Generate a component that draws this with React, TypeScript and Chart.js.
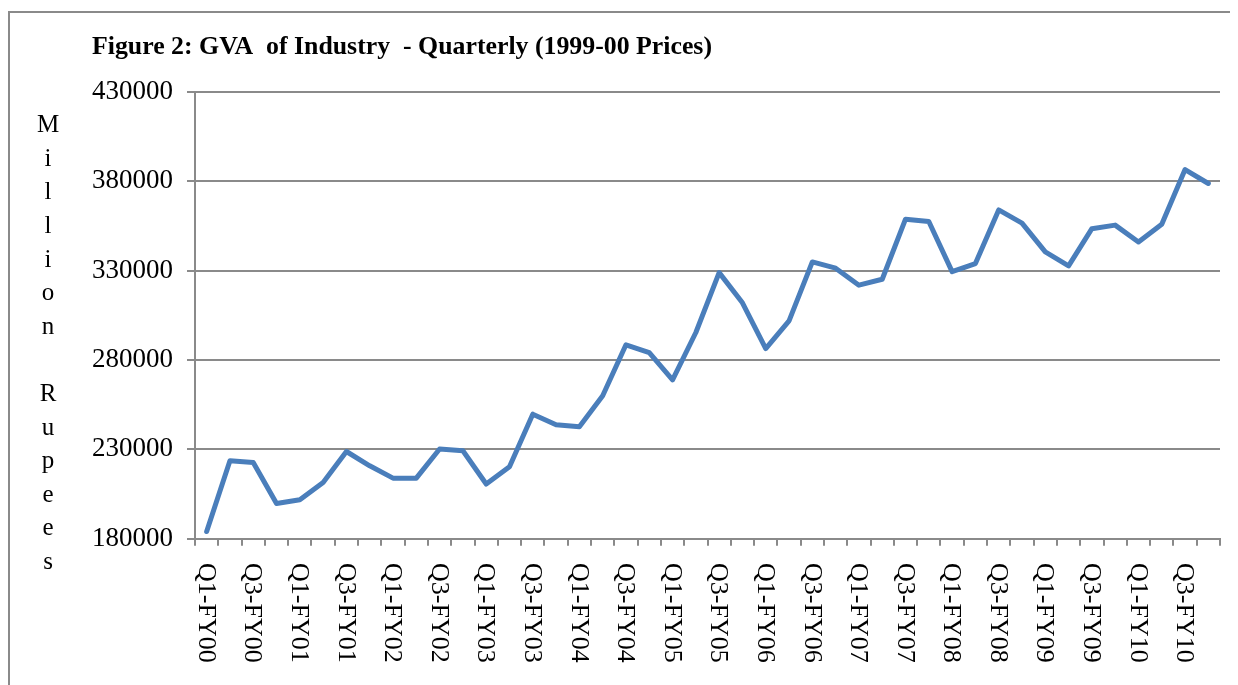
import { useEffect, useRef } from 'react';
import { Chart, registerables } from 'chart.js';

Chart.register(...registerables);

const quarters = [
  'Q1-FY00', 'Q2-FY00', 'Q3-FY00', 'Q4-FY00',
  'Q1-FY01', 'Q2-FY01', 'Q3-FY01', 'Q4-FY01',
  'Q1-FY02', 'Q2-FY02', 'Q3-FY02', 'Q4-FY02',
  'Q1-FY03', 'Q2-FY03', 'Q3-FY03', 'Q4-FY03',
  'Q1-FY04', 'Q2-FY04', 'Q3-FY04', 'Q4-FY04',
  'Q1-FY05', 'Q2-FY05', 'Q3-FY05', 'Q4-FY05',
  'Q1-FY06', 'Q2-FY06', 'Q3-FY06', 'Q4-FY06',
  'Q1-FY07', 'Q2-FY07', 'Q3-FY07', 'Q4-FY07',
  'Q1-FY08', 'Q2-FY08', 'Q3-FY08', 'Q4-FY08',
  'Q1-FY09', 'Q2-FY09', 'Q3-FY09', 'Q4-FY09',
  'Q1-FY10', 'Q2-FY10', 'Q3-FY10', 'Q4-FY10',
];

const gvaIndustry = [
  184000, 223600, 222700, 199700,
  201800, 211500, 228800, 220800,
  213900, 213900, 230200, 229200,
  210600, 220300, 249700, 243800,
  242600, 260000, 288500, 284200,
  268900, 295400, 328900, 312000,
  286400, 301900, 334900, 331400,
  321900, 325200, 358800, 357500,
  329500, 334000, 364000, 356600,
  340500, 332700, 353500, 355500,
  346100, 356000, 386600, 378800,
];

const yMin = 180000;
const yMax = 430000;
const yStep = 50000;

const titleText = 'Figure 2: GVA  of Industry  - Quarterly (1999-00 Prices)';
const yAxisTitle = 'Million Rupees';
const labelEvery = 2;

const SERIF = "'Liberation Serif', 'Times New Roman', serif";

const decorPlugin = {
  id: 'decor',
  afterDraw(chart: any) {
    const ctx = chart.ctx;
    ctx.save();
    // outer frame (top and left edges visible)
    ctx.fillStyle = '#8a8a8a';
    ctx.fillRect(0, 3, chart.width, 2);
    ctx.fillRect(0, 3, 2, chart.height);

    // title (slightly condensed, like the original)
    ctx.fillStyle = '#000';
    ctx.font = `bold 26px ${SERIF}`;
    ctx.textBaseline = 'middle';
    ctx.textAlign = 'left';
    const w = ctx.measureText(titleText).width;
    const targetW = 620;
    ctx.save();
    ctx.translate(84, 39);
    if (w > targetW) ctx.scale(targetW / w, 1);
    ctx.fillText(titleText, 0, 0);
    ctx.restore();

    // stacked y-axis title
    ctx.font = `25px ${SERIF}`;
    ctx.textAlign = 'center';
    yAxisTitle.split('').forEach((ch, k) => {
      ctx.fillText(ch, 40, 117.7 + 33.6 * k);
    });

    // x labels, rotated clockwise
    const xs = chart.scales.x;
    ctx.font = `26px ${SERIF}`;
    ctx.textAlign = 'left';
    ctx.textBaseline = 'middle';
    quarters.forEach((q, i) => {
      if (i % labelEvery !== 0) return;
      const x = xs.getPixelForValue(i);
      ctx.save();
      ctx.translate(x - 1, 555);
      ctx.rotate(Math.PI / 2);
      ctx.fillText(q, 0, 0);
      ctx.restore();
    });
    ctx.restore();
  },
};

export default function App() {
  const canvasRef = useRef<HTMLCanvasElement | null>(null);

  useEffect(() => {
    const canvas = canvasRef.current;
    if (!canvas) return;
    const chart = new Chart(canvas, {
      type: 'line',
      data: {
        labels: quarters,
        datasets: [
          {
            label: 'GVA of Industry',
            data: gvaIndustry,
            borderColor: '#4a7ebb',
            backgroundColor: '#4a7ebb',
            borderWidth: 5,
            pointRadius: 0,
            tension: 0,
            borderJoinStyle: 'round',
            borderCapStyle: 'round',
          },
        ],
      },
      options: {
        responsive: false,
        animation: false,
        layout: { padding: { top: 84, right: 18, left: 0, bottom: 0 } },
        plugins: {
          legend: { display: false },
          title: { display: false },
          tooltip: { enabled: false },
        },
        scales: {
          x: {
            type: 'category',
            offset: true,
            ticks: { display: false, autoSkip: false },
            grid: {
              offset: true,
              drawOnChartArea: false,
              drawTicks: true,
              tickLength: 7,
              color: '#8a8a8a',
              lineWidth: 2,
            },
            border: { color: '#8a8a8a', width: 2 },
            afterFit(s: any) {
              s.height = 146.3;
            },
          },
          y: {
            min: yMin,
            max: yMax,
            ticks: {
              stepSize: yStep,
              color: '#000',
              padding: 14,
              font: { family: SERIF, size: 27 },
              callback: (v: any) => String(v),
            },
            grid: {
              color: '#8a8a8a',
              lineWidth: 2,
              drawTicks: true,
              tickLength: 8,
            },
            border: { color: '#8a8a8a', width: 2 },
            afterFit(s: any) {
              s.width = 187;
            },
          },
        },
      },
      plugins: [decorPlugin],
    });
    return () => chart.destroy();
  }, []);

  return (
    <div style={{ position: 'relative', width: 1230, height: 677 }}>
      <canvas
        ref={canvasRef}
        width={1230}
        height={677}
        style={{ display: 'block', width: 1230, height: 677 }}
      />
    </div>
  );
}
